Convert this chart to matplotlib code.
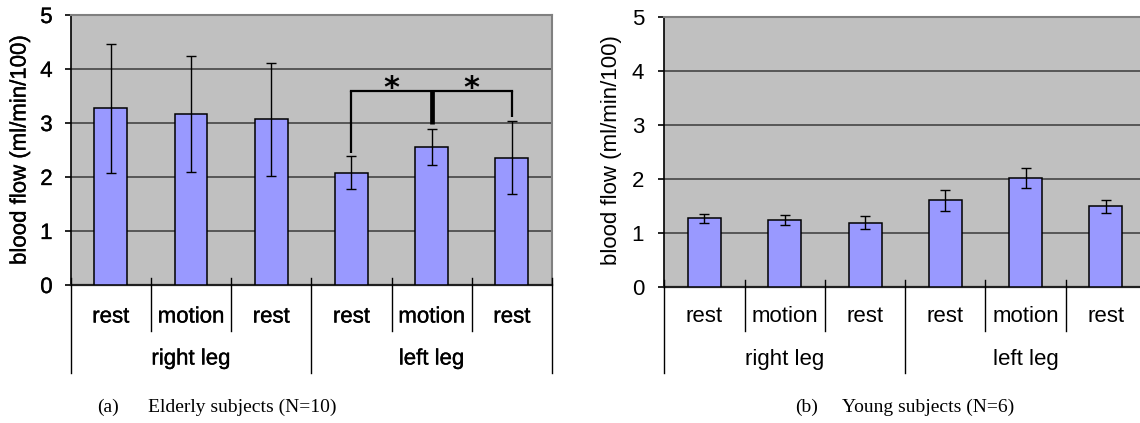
import matplotlib
matplotlib.use("Agg")
import matplotlib.pyplot as plt
import matplotlib.patheffects as pe

# ---------------- data ----------------
categories = ["rest", "motion", "rest", "rest", "motion", "rest"]
groups = ["right leg", "left leg"]
yticks = [0, 1, 2, 3, 4, 5]

elderly_mean = [3.27, 3.17, 3.07, 2.08, 2.56, 2.36]
elderly_err = [1.20, 1.08, 1.05, 0.31, 0.33, 0.67]

young_mean = [1.27, 1.24, 1.19, 1.60, 2.02, 1.49]
young_err = [0.08, 0.09, 0.12, 0.20, 0.18, 0.12]

# significance bracket (elderly, left leg): leg bottoms and bar height
sig_leg_bottoms = [2.45, 2.98, 3.12]
sig_top = 3.6
sig_star_y = 3.48

ylabel = "blood flow (ml/min/100)"
caption_a = ("(a)", "Elderly subjects (N=10)")
caption_b = ("(b)", "Young subjects (N=6)")

# ---------------- style ----------------
W, H = 1140, 423
fig = plt.figure(figsize=(W / 100, H / 100), dpi=100)
SANS = ["Liberation Sans", "DejaVu Sans"]
SERIF = ["Liberation Serif", "DejaVu Serif"]
BG = "#C0C0C0"
BAR = "#9999FF"
GRID = "#3A3A3A"
FS = 16


def fx(x):
    return x / W


def fy(y):
    return 1 - y / H


def make_panel(left_px, top_px, bottom_px, cat_w, means, errs, tick_pad, ylabel_x, heavy):
    effects = [pe.withStroke(linewidth=0.25, foreground="black")] if heavy else []
    height_px = bottom_px - top_px
    ax = fig.add_axes([fx(left_px), fy(bottom_px), 6 * cat_w / W, height_px / H])
    ax.set_facecolor(BG)
    ax.set_xlim(0, 6)
    ax.set_ylim(0, 5)
    ax.set_yticks(yticks)
    ax.set_yticklabels([str(t) for t in yticks], fontsize=FS, family=SANS)
    for lab in ax.get_yticklabels():
        lab.set_path_effects(effects)
    ax.set_xticks([])
    ax.tick_params(axis="y", direction="out", length=4, width=1.2, pad=tick_pad, color="black")
    for t in yticks[1:-1]:
        ax.axhline(t, color=GRID, lw=1.1, zorder=1)
    for s in ["top", "right"]:
        ax.spines[s].set_color("#808080")
        ax.spines[s].set_linewidth(1.5)
    ax.spines["left"].set_color("black")
    ax.spines["left"].set_linewidth(1.2)
    ax.spines["bottom"].set_color("#202020")
    ax.spines["bottom"].set_linewidth(1.6)

    xs = [i + 0.5 for i in range(len(means))]
    ax.bar(xs, means, width=0.41, color=BAR, edgecolor="black", linewidth=1.1, zorder=3)
    ax.errorbar(xs, means, yerr=errs, fmt="none", ecolor="black", elinewidth=1.0,
                capsize=3.8, capthick=1.0, zorder=4)

    tr = ax.get_xaxis_transform()

    def ay(ypix):
        return (bottom_px - ypix) / height_px

    # category separators
    for xb in [1, 2, 4, 5]:
        ax.plot([xb, xb], [ay(bottom_px - 7), ay(331)], color="black", lw=1.0,
                transform=tr, clip_on=False, zorder=5)
    for xb in [0, 3, 6]:
        ax.plot([xb, xb], [ay(bottom_px - 7), ay(373)], color="black", lw=1.0,
                transform=tr, clip_on=False, zorder=5)
    for xc, lab in zip(xs, categories):
        ax.text(xc, ay(317), lab, transform=tr, ha="center", va="center",
                fontsize=FS, family=SANS, path_effects=effects)
    for gi, g in enumerate(groups):
        ax.text(1.5 + 3 * gi, ay(359), g, transform=tr, ha="center", va="center",
                fontsize=FS, family=SANS, path_effects=effects)
    fig.text(fx(ylabel_x), fy(150), ylabel, rotation=90, ha="center", va="center",
             fontsize=FS, family=SANS, path_effects=effects)
    return ax, xs


# ---------------- left panel ----------------
axa, xa = make_panel(70.7, 15, 285, 80.22, elderly_mean, elderly_err, 9.0, 20, True)
# significance bracket
l, m, r = xa[3], xa[4], xa[5]
axa.plot([l, l], [sig_leg_bottoms[0], sig_top], color="black", lw=1.6, zorder=6,
         solid_capstyle="butt")
axa.plot([r, r], [sig_leg_bottoms[2], sig_top], color="black", lw=1.6, zorder=6,
         solid_capstyle="butt")
axa.plot([l, r], [sig_top, sig_top], color="black", lw=1.6, zorder=6,
         solid_capstyle="projecting")
axa.plot([m, m], [sig_leg_bottoms[1], sig_top], color="black", lw=3.4, zorder=6,
         solid_capstyle="butt")
for xs_ in [(l + m) / 2, (m + r) / 2]:
    axa.text(xs_, sig_star_y, "*", ha="center", va="baseline", fontsize=22,
             fontweight="bold", family=["DejaVu Sans"], zorder=7)

# ---------------- right panel ----------------
axb, xb_ = make_panel(664.3, 17.3, 286.7, 80.3, young_mean, young_err, 10.5, 612, False)

# ---------------- captions ----------------
CFS = 14
fig.text(fx(97), fy(407), caption_a[0], ha="left", va="center", fontsize=CFS, family=SERIF)
fig.text(fx(148), fy(407), caption_a[1], ha="left", va="center", fontsize=CFS, family=SERIF)
fig.text(fx(795), fy(407), caption_b[0], ha="left", va="center", fontsize=CFS, family=SERIF)
fig.text(fx(842), fy(407), caption_b[1], ha="left", va="center", fontsize=CFS, family=SERIF)

fig.savefig("out.png", dpi=100, facecolor="white")
